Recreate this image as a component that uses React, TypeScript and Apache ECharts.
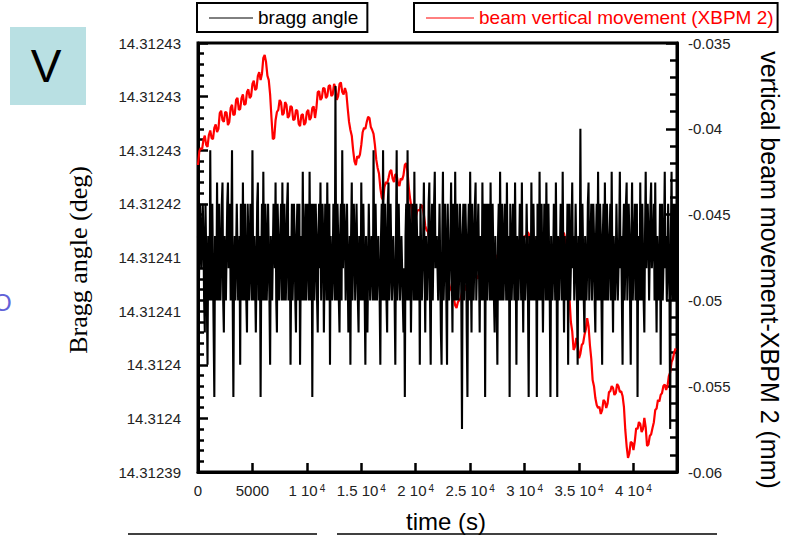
import { useEffect, useRef } from "react";
import * as echarts from "echarts";

// sampling interval of each record (s)
const BRAGG_DT = 62.5;
const BEAM_DT = 125;

// bragg angle, in micro-degrees above 14.31239 deg
const braggOffset = [
  22, 16, 16, 25, 25, 19, 19, 25, 22, 16, 13, 25, 25, 16, 10, 22, 22, 16, 30, 19, 16, 25, 25, 13, 7, 22, 22, 16, 27, 19, 16, 25,
  25, 16, 19, 25, 27, 16, 13, 22, 22, 16, 16, 25, 27, 19, 19, 25, 16, 22, 30, 16, 7, 19, 22, 16, 16, 25, 25, 16, 19, 22, 10, 25,
  22, 16, 27, 19, 16, 25, 25, 16, 13, 25, 22, 16, 19, 25, 25, 16, 30, 19, 16, 22, 22, 13, 19, 25, 27, 16, 16, 22, 7, 19, 25, 16,
  28, 19, 16, 25, 22, 16, 19, 25, 25, 16, 10, 22, 22, 16, 16, 25, 25, 19, 27, 16, 13, 25, 22, 16, 19, 22, 25, 16, 27, 19, 16, 25,
  22, 16, 19, 25, 27, 16, 16, 22, 10, 19, 25, 16, 19, 25, 22, 16, 13, 22, 25, 16, 16, 25, 10, 19, 22, 16, 28, 19, 16, 22, 25, 16,
  19, 25, 22, 16, 28, 19, 16, 25, 7, 22, 25, 16, 19, 25, 22, 16, 13, 22, 25, 19, 27, 16, 16, 25, 22, 13, 19, 25, 25, 16, 27, 19,
  16, 25, 10, 22, 22, 16, 19, 25, 25, 16, 36, 19, 16, 25, 22, 16, 13, 22, 25, 16, 30, 19, 19, 25, 22, 16, 16, 25, 25, 13, 19, 22,
  10, 22, 27, 16, 16, 25, 22, 16, 19, 25, 25, 16, 13, 22, 22, 16, 27, 19, 16, 25, 25, 16, 10, 22, 22, 13, 19, 25, 25, 16, 16, 22,
  22, 16, 30, 19, 16, 25, 25, 16, 19, 22, 22, 16, 10, 22, 25, 16, 30, 19, 16, 25, 22, 16, 13, 25, 27, 16, 19, 25, 25, 16, 16, 22,
  22, 16, 10, 22, 30, 16, 19, 25, 25, 16, 16, 22, 22, 16, 13, 19, 7, 22, 25, 16, 30, 19, 16, 25, 22, 13, 19, 25, 25, 16, 28, 19,
  16, 25, 22, 16, 19, 22, 10, 25, 25, 16, 16, 22, 27, 19, 13, 22, 22, 16, 19, 25, 27, 16, 10, 22, 25, 16, 16, 25, 28, 19, 19, 22,
  22, 16, 16, 25, 25, 13, 10, 22, 28, 16, 19, 25, 22, 16, 10, 25, 25, 16, 16, 22, 27, 19, 13, 25, 22, 16, 28, 19, 16, 25, 25, 16,
  19, 25, 22, 16, 4, 22, 25, 16, 16, 25, 22, 13, 7, 22, 25, 16, 28, 19, 13, 25, 22, 16, 19, 25, 27, 16, 16, 22, 25, 19, 13, 22,
  22, 16, 27, 19, 16, 25, 7, 22, 25, 16, 19, 25, 22, 16, 27, 19, 16, 25, 25, 16, 13, 22, 22, 16, 10, 22, 25, 16, 28, 19, 16, 25,
  22, 16, 19, 25, 25, 16, 27, 19, 16, 22, 7, 25, 22, 16, 19, 25, 25, 16, 27, 19, 10, 22, 22, 16, 16, 25, 25, 16, 27, 19, 13, 22,
  22, 16, 19, 25, 25, 16, 7, 22, 22, 16, 27, 19, 16, 25, 25, 16, 19, 22, 7, 25, 22, 16, 28, 19, 16, 25, 25, 13, 13, 25, 22, 16,
  27, 19, 16, 25, 25, 16, 7, 22, 22, 16, 19, 25, 25, 16, 27, 19, 7, 22, 22, 16, 16, 25, 25, 16, 28, 19, 13, 22, 22, 16, 19, 25,
  10, 22, 25, 16, 16, 22, 27, 19, 22, 16, 19, 25, 25, 16, 10, 22, 22, 16, 32, 19, 16, 25, 25, 16, 13, 22, 22, 16, 19, 25, 27, 16,
  16, 22, 25, 16, 19, 25, 22, 16, 13, 22, 25, 16, 28, 19, 16, 25, 22, 16, 10, 22, 25, 16, 27, 19, 16, 25, 22, 16, 19, 22, 25, 16,
  28, 19, 13, 22, 22, 16, 19, 25, 25, 16, 16, 22, 28, 19, 22, 16, 10, 22, 25, 16, 19, 25, 27, 16, 16, 25, 22, 16, 10, 22, 27, 16,
  16, 22, 25, 16, 19, 25, 7, 22, 22, 16, 27, 19, 16, 25, 25, 16, 13, 22, 28, 19, 19, 25, 22, 16, 16, 25, 27, 19, 19, 22, 25, 16,
  27, 19, 13, 22, 22, 16, 19, 25, 10, 22, 25, 16, 16, 22, 28, 19, 22, 16, 19, 25, 25, 16, 4, 22, 28, 19, 16, 25, 22, 16, 25, 19,
];

// vertical beam movement, XBPM 2 (mm)
const beamMovement = [
  -0.04211, -0.0413, -0.04112, -0.0412, -0.04065, -0.0404, -0.04094, -0.04105, -0.04036, -0.0401,
  -0.04054, -0.0406, -0.03995, -0.03975, -0.04019, -0.04, -0.03908, -0.03895, -0.03949, -0.0396,
  -0.03902, -0.03905, -0.03978, -0.0396, -0.03879, -0.0386, -0.0392, -0.03915, -0.03832, -0.0382,
  -0.0389, -0.03885, -0.03821, -0.038, -0.03861, -0.03855, -0.03786, -0.0377, -0.03821, -0.0381,
  -0.03739, -0.0372, -0.03774, -0.03765, -0.03692, -0.0367, -0.03716, -0.0368, -0.03587, -0.0357,
  -0.03611, -0.0369, -0.03716, -0.038, -0.03937, -0.0406, -0.04054, -0.0395, -0.03902, -0.0389,
  -0.03832, -0.03845, -0.0392, -0.0391, -0.03844, -0.0386, -0.03937, -0.03925, -0.03867, -0.03875,
  -0.03949, -0.03945, -0.0389, -0.03895, -0.03972, -0.03985, -0.0392, -0.03915, -0.03978, -0.03965,
  -0.03902, -0.0389, -0.03949, -0.03935, -0.03879, -0.0387, -0.03937, -0.0388, -0.03786, -0.0378,
  -0.03832, -0.0382, -0.03762, -0.03765, -0.03821, -0.0381, -0.03751, -0.03745, -0.03809, -0.038,
  -0.03739, -0.0376, -0.03832, -0.0381, -0.03739, -0.0373, -0.03786, -0.038, -0.03762, -0.0379,
  -0.03879, -0.0396, -0.04007, -0.0404, -0.04124, -0.0419, -0.04211, -0.0416, -0.0417, -0.0415,
  -0.04094, -0.0402, -0.03995, -0.04, -0.0396, -0.0393, -0.03937, -0.0399, -0.04007, -0.0403,
  -0.04094, -0.0418, -0.04228, -0.0426, -0.04345, -0.044, -0.04415, -0.0434, -0.0431, -0.0432,
  -0.04287, -0.0425, -0.0424, -0.0429, -0.0431, -0.04265, -0.04269, -0.0432, -0.04333, -0.0429,
  -0.04298, -0.0427, -0.04211, -0.042, -0.04252, -0.0435, -0.04415, -0.0447, -0.04561, -0.0456,
  -0.0452, -0.0448, -0.04473, -0.04475, -0.04444, -0.0445, -0.04502, -0.04565, -0.0459, -0.046,
  -0.04648, -0.0468, -0.04677, -0.0467, -0.04706, -0.0474, -0.04735, -0.0474, -0.04776, -0.0482,
  -0.04823, -0.0479, -0.04794, -0.0485, -0.04881, -0.0492, -0.04939, -0.0495, -0.04986, -0.0503,
  -0.05044, -0.0501, -0.04998, -0.0499, -0.04951, -0.0492, -0.0491, -0.0494, -0.04939, -0.0489,
  -0.04869, -0.049, -0.04904, -0.0485, -0.04834, -0.0487, -0.04869, -0.0483, -0.04811, -0.0484,
  -0.04852, -0.0479, -0.04776, -0.0481, -0.04823, -0.0477, -0.04753, -0.0479, -0.04788, -0.0475,
  -0.04735, -0.0477, -0.04776, -0.0472, -0.04706, -0.0475, -0.04753, -0.047, -0.04683, -0.0472,
  -0.04735, -0.0468, -0.0466, -0.047, -0.04706, -0.0466, -0.04648, -0.0468, -0.04683, -0.0464,
  -0.04625, -0.0463, -0.04601, -0.0461, -0.0466, -0.0466, -0.04625, -0.0464, -0.04695, -0.0469,
  -0.04648, -0.0466, -0.04718, -0.0472, -0.04677, -0.0469, -0.04735, -0.0473, -0.04695, -0.047,
  -0.04741, -0.0472, -0.04671, -0.0468, -0.04706, -0.0468, -0.04636, -0.0463, -0.04601, -0.0461,
  -0.04648, -0.047, -0.04823, -0.0499, -0.05126, -0.0518, -0.05289, -0.0527, -0.05219, -0.0525,
  -0.05336, -0.0531, -0.0526, -0.0525, -0.05202, -0.0517, -0.05103, -0.0515, -0.0526, -0.0534,
  -0.05464, -0.055, -0.05569, -0.0561, -0.05627, -0.0562, -0.05662, -0.0564, -0.0558, -0.0559,
  -0.05627, -0.056, -0.05534, -0.0553, -0.05499, -0.0551, -0.05551, -0.0554, -0.05487, -0.055,
  -0.05534, -0.0553, -0.05557, -0.0562, -0.05755, -0.0585, -0.05918, -0.0589, -0.05825, -0.0583,
  -0.05872, -0.0582, -0.05744, -0.0575, -0.05709, -0.0572, -0.05767, -0.0575, -0.05685, -0.0574,
  -0.05848, -0.0584, -0.0579, -0.0578, -0.05744, -0.0571, -0.05639, -0.0563, -0.0558, -0.0559,
  -0.05551, -0.0554, -0.05499, -0.0549, -0.05522, -0.055, -0.05441, -0.0542, -0.05359, -0.0534,
  -0.05301, -0.0528,
];

// tick labels (left axis: one per 5 micro-degrees; bottom: one per 5000 s)
const braggTickLabels = [
  "14.31239", "14.3124", "14.3124", "14.31241", "14.31241",
  "14.31242", "14.31243", "14.31243", "14.31243",
];
const timeTickLabels = [
  "0", "5000", "1 10^4", "1.5 10^4", "2 10^4", "2.5 10^4", "3 10^4", "3.5 10^4", "4 10^4",
];

const SANS = "'Liberation Sans', Arial, sans-serif";
const SERIF = "'Liberation Serif', 'Times New Roman', serif";

export default function App() {
  const ref = useRef<HTMLDivElement>(null);

  useEffect(() => {
    const chart = echarts.init(ref.current!, null, { renderer: "svg" });

    const braggData = braggOffset.map((v, i) => [i * BRAGG_DT, v]);
    const beamData = beamMovement.map((v, i) => [i * BEAM_DT, v]);

    const labelStyle = { color: "#222", fontSize: 15, fontFamily: SANS };

    const legendBase = {
      top: 3,
      orient: "horizontal",
      borderColor: "#000",
      borderWidth: 2,
      borderRadius: 0,
      itemHeight: 14,
      icon: "none",
    };

    const option: any = {
      animation: false,
      backgroundColor: "#fff",
      grid: {
        left: 198,
        right: 115,
        top: 43,
        bottom: 63,
        show: true,
        borderColor: "#000",
        borderWidth: 3,
      },
      legend: [
        {
          ...legendBase,
          data: ["bragg angle"],
          left: 197,
          padding: [5, 9, 5, 12],
          itemWidth: 44,
          textStyle: { color: "#000", fontSize: 19, fontFamily: SANS },
        },
        {
          ...legendBase,
          data: ["beam vertical movement (XBPM 2)"],
          left: 414,
          padding: [5, 4, 5, 12],
          itemWidth: 48,
          textStyle: { color: "#ff0000", fontSize: 19, fontFamily: SANS },
        },
      ],
      xAxis: {
        type: "value",
        min: 0,
        max: 44000,
        interval: 5000,
        splitLine: { show: false },
        axisLine: { lineStyle: { color: "#000", width: 3 } },
        axisTick: { inside: true, length: 9, lineStyle: { color: "#000", width: 2.5 } },
        axisLabel: {
          ...labelStyle,
          margin: 11,
          showMaxLabel: false,
          formatter: (value: number) => {
            const s = timeTickLabels[Math.round(value / 5000)];
            if (s == null || value % 5000 !== 0) return "";
            if (s.includes("^")) {
              const [b, e] = s.split("^");
              return `{n|${b}}{s|${e}}`;
            }
            return `{n|${s}}`;
          },
          rich: {
            n: { fontSize: 15, fontFamily: SANS, color: "#222" },
            s: { fontSize: 10, fontFamily: SANS, color: "#222", verticalAlign: "top", padding: [0, 0, 0, 2] },
          },
        },
      },
      yAxis: [
        {
          type: "value",
          position: "left",
          min: 0,
          max: 40,
          interval: 5,
          splitLine: { show: false },
          axisLine: { show: true, lineStyle: { color: "#000", width: 3 } },
          axisTick: { inside: true, length: 10, lineStyle: { color: "#000", width: 2.5 } },
          minorTick: { show: true, splitNumber: 5, length: 6, lineStyle: { color: "#000", width: 2.5 } },
          minorSplitLine: { show: false },
          axisLabel: {
            ...labelStyle,
            margin: 17,
            formatter: (value: number) => braggTickLabels[Math.round(value / 5)] ?? "",
          },
        },
        {
          type: "value",
          position: "right",
          min: -0.06,
          max: -0.035,
          interval: 0.005,
          splitLine: { show: false },
          axisLine: { show: true, lineStyle: { color: "#000", width: 3 } },
          axisTick: { inside: true, length: 11, lineStyle: { color: "#000", width: 2.5 } },
          minorTick: { show: true, splitNumber: 5, length: 7, lineStyle: { color: "#000", width: 2.5 } },
          minorSplitLine: { show: false },
          axisLabel: {
            ...labelStyle,
            margin: 11,
            formatter: (value: number) => String(Math.round(value * 1000) / 1000),
          },
        },
      ],
      series: [
        {
          name: "beam vertical movement (XBPM 2)",
          type: "line",
          yAxisIndex: 1,
          data: beamData,
          showSymbol: false,
          symbol: "none",
          sampling: "none",
          color: "#ff0000",
          itemStyle: { color: "#ff0000" },
          lineStyle: { color: "#ff0000", width: 2.2 },
          z: 2,
        },
        {
          name: "bragg angle",
          type: "line",
          yAxisIndex: 0,
          data: braggData,
          showSymbol: false,
          symbol: "none",
          sampling: "none",
          color: "#000",
          itemStyle: { color: "#000" },
          lineStyle: { color: "#000", width: 2.1 },
          z: 3,
        },
      ],
      graphic: [
        // legend sample lines
        {
          type: "line",
          shape: { x1: 209, y1: 18, x2: 253, y2: 18 },
          style: { stroke: "#000", lineWidth: 1 },
          z: 100,
        },
        {
          type: "line",
          shape: { x1: 426, y1: 18, x2: 474, y2: 18 },
          style: { stroke: "#ff0000", lineWidth: 1 },
          z: 100,
        },
        {
          type: "rect",
          shape: { x: 10, y: 27, width: 76, height: 78 },
          style: { fill: "#b9e0e3" },
        },
        {
          type: "text",
          x: 46,
          y: 66,
          style: {
            text: "V",
            fill: "#000",
            font: `46px ${SANS}`,
            align: "center",
            verticalAlign: "middle",
          },
        },
        {
          type: "text",
          x: -7,
          y: 302,
          style: {
            text: "O",
            fill: "#6262d8",
            font: `24px ${SANS}`,
            align: "left",
            verticalAlign: "middle",
          },
        },
        {
          type: "text",
          x: 78,
          y: 260,
          rotation: Math.PI / 2,
          style: {
            text: "Bragg angle (deg)",
            fill: "#000",
            font: `26px ${SERIF}`,
            align: "center",
            verticalAlign: "middle",
          },
        },
        {
          type: "text",
          x: 770,
          y: 270,
          rotation: -Math.PI / 2,
          style: {
            text: "vertical beam movement-XBPM 2 (mm)",
            fill: "#000",
            font: `25px ${SANS}`,
            align: "center",
            verticalAlign: "middle",
          },
        },
        {
          type: "text",
          x: 446,
          y: 521,
          style: {
            text: "time (s)",
            fill: "#000",
            font: `24px ${SANS}`,
            align: "center",
            verticalAlign: "middle",
          },
        },
        {
          type: "line",
          shape: { x1: 128, y1: 534, x2: 317, y2: 534 },
          style: { stroke: "#000", lineWidth: 1.5 },
        },
        {
          type: "line",
          shape: { x1: 337, y1: 534, x2: 717, y2: 534 },
          style: { stroke: "#000", lineWidth: 1.5 },
        },
      ],
    };

    chart.setOption(option);
    return () => chart.dispose();
  }, []);

  return (
    <div
      ref={ref}
      style={{ position: "absolute", left: 0, top: 0, width: 792, height: 535 }}
    />
  );
}
